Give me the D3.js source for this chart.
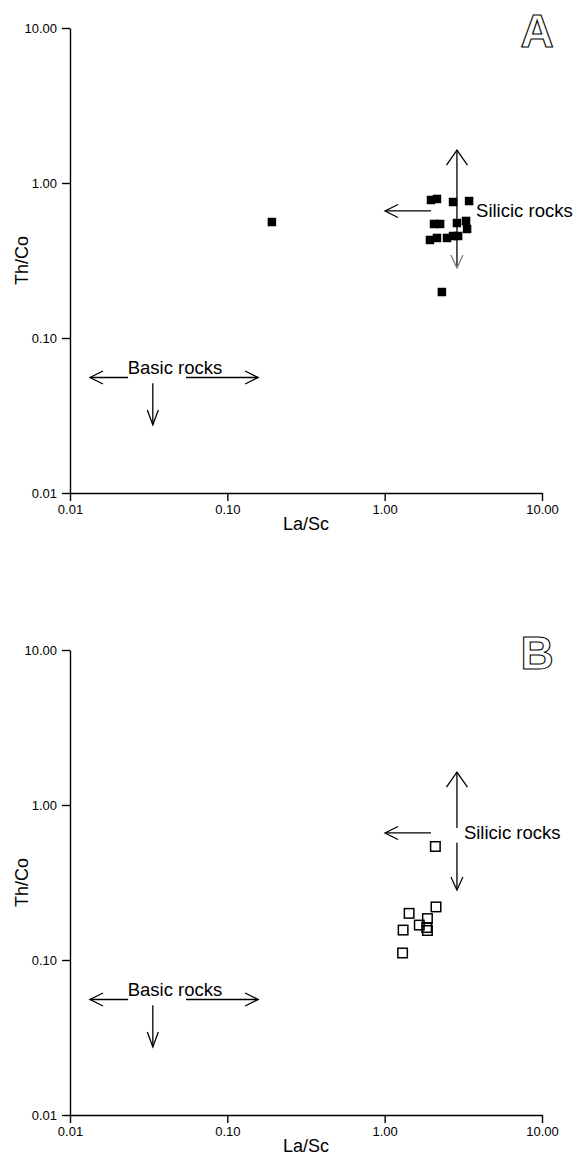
<!DOCTYPE html>
<html>
<head>
<meta charset="utf-8">
<title>Th/Co vs La/Sc</title>
<script src="https://cdn.jsdelivr.net/npm/d3@7"></script>
<style>
    body{ margin:0; background:#fff; }
    svg{ display:block; font-family:"Liberation Sans", Arial, sans-serif; }
    .axis path, .axis line{ stroke:#000; stroke-width:1.4px; }
    .axis text{ font-size:13px; fill:#000; }
</style>
</head>
<body>
<svg width="582" height="1162"></svg>
<script>
// tick values shared by both axes
var tickVals = [0.01, 0.1, 1, 10];

// panel A (filled squares)
var laScA = [1.97, 2.15, 2.72, 3.44, 2.06, 2.25, 2.88, 3.29, 3.34, 1.94, 2.15, 2.49, 2.72, 2.93, 2.31, 0.192];
var thCoA = [0.777, 0.789, 0.754, 0.765, 0.544, 0.544, 0.552, 0.569, 0.505, 0.429, 0.442, 0.442, 0.455, 0.455, 0.198, 0.56];

// panel B (open squares)
var laScB = [2.10, 2.12, 1.43, 1.66, 1.87, 1.85, 1.87, 1.31, 1.30];
var thCoB = [0.54, 0.22, 0.20, 0.168, 0.185, 0.162, 0.155, 0.156, 0.111];

var svg = d3.select("svg");
var W = 472, H = 465, left = 70;

// arrow: straight line plus open chevron head at (x2,y2)
function arrow(g, x1, y1, x2, y2, len, half, color) {
    g.append("line").attr("x1", x1).attr("y1", y1).attr("x2", x2).attr("y2", y2)
        .attr("stroke", color || "#000").attr("stroke-width", 1.3);
    var a = Math.atan2(y2 - y1, x2 - x1);
    var bx = x2 - len * Math.cos(a), by = y2 - len * Math.sin(a);
    var px = -Math.sin(a) * half, py = Math.cos(a) * half;
    g.append("path")
        .attr("d", "M" + (bx + px) + "," + (by + py) + "L" + x2 + "," + y2 + "L" + (bx - px) + "," + (by - py))
        .attr("fill", "none").attr("stroke", color || "#000").attr("stroke-width", 1.3);
}

function panel(top, xs, ys, letter, filled) {
    var g = svg.append("g").attr("transform", "translate(" + left + "," + top + ")");
    var x = d3.scaleLog().domain([0.01, 10]).range([0, W]);
    var y = d3.scaleLog().domain([0.01, 10]).range([H, 0]);
    var fmt = d3.format(".2f");

    g.append("g").attr("class", "axis").attr("transform", "translate(0," + H + ")")
        .call(d3.axisBottom(x).tickValues(tickVals).tickFormat(fmt).tickSize(8).tickSizeOuter(0).tickPadding(4));
    g.append("g").attr("class", "axis")
        .call(d3.axisLeft(y).tickValues(tickVals).tickFormat(fmt).tickSize(8).tickSizeOuter(0).tickPadding(5));

    g.append("text").attr("x", W / 2).attr("y", H + 37).attr("text-anchor", "middle")
        .style("font-size", "18px").text("La/Sc");
    g.append("text").attr("transform", "translate(-42," + (H / 2) + ") rotate(-90)")
        .attr("text-anchor", "middle").style("font-size", "18px").text("Th/Co");

    // panel letter, outlined
    g.append("text").attr("x", 467).attr("y", 19).attr("text-anchor", "middle")
        .style("font-size", "46px").style("font-weight", "bold")
        .attr("fill", "#fff").attr("stroke", "#000").attr("stroke-width", 1.1)
        .text(letter);

    // basic rocks field
    arrow(g, x(0.0234), y(0.0556), x(0.0134), y(0.0556), 13, 6.5);
    arrow(g, x(0.0546), y(0.0556), x(0.157), y(0.0556), 13, 6.5);
    arrow(g, x(0.0336), y(0.051), x(0.0336), y(0.0275), 15, 5.5);
    g.append("text").attr("x", x(0.0465)).attr("y", y(0.0556) - 4).attr("text-anchor", "middle")
        .style("font-size", "18.5px").text("Basic rocks");

    // silicic rocks field
    var sx = x(2.88);
    if (filled) {
        arrow(g, sx, y(0.29), sx, y(1.63), 15, 10.5);
    } else {
        arrow(g, sx, y(0.71), sx, y(1.63), 15, 10.5);
        g.append("line").attr("x1", sx).attr("x2", sx).attr("y1", y(0.57)).attr("y2", y(0.29))
            .attr("stroke", "#000").attr("stroke-width", 1.3);
    }
    var vy = y(0.283);
    g.append("path")
        .attr("d", "M" + (sx - 6) + "," + (vy - 13) + "L" + sx + "," + vy + "L" + (sx + 6) + "," + (vy - 13))
        .attr("fill", "none").attr("stroke", filled ? "#777" : "#000").attr("stroke-width", 1.2);
    arrow(g, x(1.97), y(0.66), x(1.005), y(0.66), 13, 6.5);
    g.append("text").attr("x", filled ? x(3.81) : x(3.19)).attr("y", y(0.66) + 6)
        .style("font-size", "18.5px").text("Silicic rocks");

    // samples
    var pts = xs.map(function(d, i) { return [d, ys[i]]; });
    var s = filled ? 8.5 : 9.5;
    g.selectAll("rect.pt").data(pts).enter().append("rect").attr("class", "pt")
        .attr("x", function(d) { return x(d[0]) - s / 2; })
        .attr("y", function(d) { return y(d[1]) - s / 2; })
        .attr("width", s).attr("height", s)
        .attr("fill", filled ? "#000" : "none")
        .attr("stroke", filled ? "none" : "#000")
        .attr("stroke-width", 1.5);
}

panel(28, laScA, thCoA, "A", true);
panel(650, laScB, thCoB, "B", false);
</script>
</body>
</html>
